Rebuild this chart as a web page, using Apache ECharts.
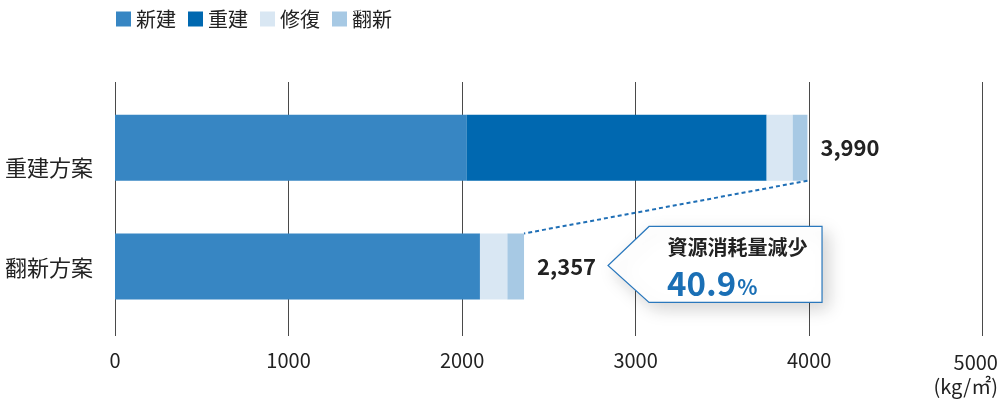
<!DOCTYPE html>
<html>
<head>
<meta charset="utf-8">
<script src="https://cdn.jsdelivr.net/npm/echarts@6/dist/echarts.min.js"></script>
<style>html,body{margin:0;padding:0;background:#fff}#c{width:1006px;height:400px}</style>
</head>
<body>
<div id="c"></div>
<script>
var categories = ['重建方案', '翻新方案'];
var seriesNames = ['新建', '重建', '修復', '翻新'];
var newBuild = [2025, 2103];
var rebuild = [1730, 0];
var repair = [150, 158];
var refurb = [85, 96];
var xTicks = [0, 1000, 2000, 3000, 4000, 5000];
var unitLabel = '(kg/㎡)';
var calloutTitle = '資源消耗量減少';

var totals = categories.map(function (c, i) { return newBuild[i] + rebuild[i] + repair[i] + refurb[i]; });
var reduction = ((totals[0] - totals[1]) / totals[0] * 100).toFixed(1);

var FONT = '"Noto Sans CJK JP", "Noto Sans", sans-serif';
var TXT = '#222';
var colors = ['#3786c3', '#0068b0', '#d9e7f3', '#a7c9e4'];
var BAR_W = 66;

var chart = echarts.init(document.getElementById('c'), null, { renderer: 'canvas' });
var xMax = xTicks[xTicks.length - 1];
var interval = xTicks[1] - xTicks[0];

function barSeries(name, data, idx) {
  var s = {
    name: name, type: 'bar', stack: 'total', data: data,
    xAxisIndex: 1, yAxisIndex: 1, barWidth: BAR_W,
    itemStyle: { color: colors[idx] }, silent: true
  };
  if (idx === 3) {
    s.label = {
      show: true, position: 'right', distance: 13,
      fontFamily: FONT, fontSize: 22, fontWeight: 'bold', color: TXT,
      formatter: function (p) { return totals[p.dataIndex].toLocaleString('en-US'); }
    };
  }
  return s;
}

var gridBase = { left: 115, right: 23.3, outerBoundsMode: 'none', containLabel: false };
function grid(extra) { return Object.assign({}, gridBase, extra); }

var option = {
  animation: false,
  textStyle: { fontFamily: FONT },
  color: colors,
  legend: {
    data: seriesNames, left: 111, top: 4, icon: 'rect',
    itemWidth: 15, itemHeight: 15, itemGap: 12,
    textStyle: { fontFamily: FONT, fontSize: 20, color: TXT }
  },
  grid: [
    grid({ top: 82, bottom: 64 }),
    grid({ top: 88.4, bottom: 74.2 }),
    grid({ top: 117.5, height: 200 })
  ],
  xAxis: [
    {
      gridIndex: 0, type: 'value', min: 0, max: xMax, interval: interval,
      axisLine: { show: false }, axisTick: { show: false },
      splitLine: { show: true, lineStyle: { color: '#4a4a4a', width: 1 } },
      axisLabel: {
        margin: 14, fontFamily: FONT, fontSize: 20, color: TXT, hideOverlap: false,
        formatter: function (v) {
          if (v === xMax) return '{r|' + v + '}\n{r|' + unitLabel + '}';
          return String(v);
        },
        rich: { r: { align: 'right', fontFamily: FONT, fontSize: 20, color: TXT, padding: [0, 34, 0, 0], lineHeight: 24 } }
      }
    },
    { gridIndex: 1, type: 'value', min: 0, max: xMax, show: false },
    { gridIndex: 2, type: 'value', min: 0, max: xMax, show: false }
  ],
  yAxis: [
    { gridIndex: 0, type: 'category', data: categories, show: false, inverse: true },
    { gridIndex: 1, type: 'category', data: categories, show: false, inverse: true },
    {
      gridIndex: 2, type: 'category', data: categories, inverse: true,
      axisLine: { show: false }, axisTick: { show: false },
      axisLabel: { margin: 22, fontFamily: FONT, fontSize: 22, color: TXT }
    }
  ],
  series: [
    barSeries(seriesNames[0], newBuild, 0),
    barSeries(seriesNames[1], rebuild, 1),
    barSeries(seriesNames[2], repair, 2),
    barSeries(seriesNames[3], refurb, 3)
  ]
};
chart.setOption(option);

// Annotations anchored to the data via the chart's own scales
var pTop = chart.convertToPixel({ xAxisIndex: 1, yAxisIndex: 1 }, [totals[0], categories[0]]);
var pBot = chart.convertToPixel({ xAxisIndex: 1, yAxisIndex: 1 }, [totals[1], categories[1]]);
var tipX = pBot[0] + 84, tipY = pBot[1] - 1;
var boxL = tipX + 41, boxR = boxL + 173, boxT = tipY - 39, boxB = tipY + 37;
var boxCx = (boxL + boxR) / 2;

chart.setOption({
  graphic: [
    {
      type: 'line', silent: true, z: 10,
      shape: { x1: pTop[0], y1: pTop[1] + BAR_W / 2, x2: pBot[0], y2: pBot[1] - BAR_W / 2 },
      style: { stroke: '#1f6fb6', lineWidth: 2, lineDash: [4, 3] }
    },
    {
      type: 'polygon', silent: true, z: 10,
      shape: { points: [[boxL, boxT], [boxR, boxT], [boxR, boxB], [boxL, boxB], [tipX, tipY]] },
      style: {
        fill: '#fff', stroke: '#2a78bd', lineWidth: 1.2,
        shadowBlur: 18, shadowColor: 'rgba(0,0,0,0.18)', shadowOffsetX: 6, shadowOffsetY: 6
      }
    },
    {
      type: 'text', silent: true, z: 11,
      x: boxCx + 2, y: boxT + 21,
      style: {
        text: calloutTitle, fontFamily: FONT, fontSize: 20, fontWeight: 'bold',
        fill: TXT, align: 'center', verticalAlign: 'middle'
      }
    },
    {
      type: 'text', silent: true, z: 11,
      x: boxL + 18, y: boxT + 57,
      style: {
        text: '{n|' + reduction + '}{p|%}',
        fontFamily: FONT, align: 'left', verticalAlign: 'middle',
        rich: {
          n: { fontFamily: FONT, fontSize: 33, fontWeight: 'bold', fill: '#1a6fb5', verticalAlign: 'bottom' },
          p: { fontFamily: FONT, fontSize: 21, fontWeight: 'bold', fill: '#1a6fb5', verticalAlign: 'bottom', padding: [0, 0, 2, 1] }
        }
      }
    }
  ]
});
</script>
</body>
</html>
